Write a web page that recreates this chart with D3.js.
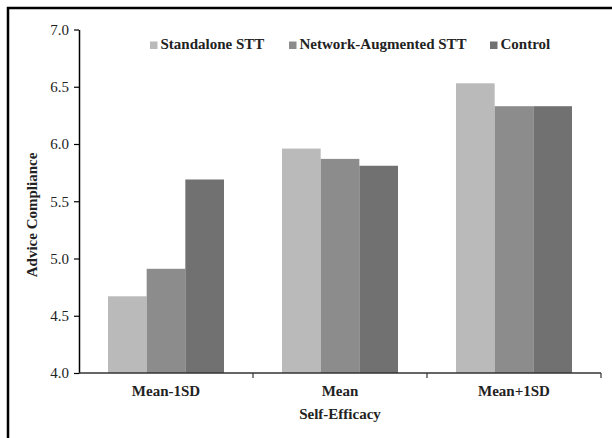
<!DOCTYPE html>
<meta charset="utf-8">
<script src="https://d3js.org/d3.v7.min.js"></script>
<style>
  body { margin: 0; background: #fff; }
  text { font-family: 'Liberation Serif', 'Times New Roman', serif; }
  .tick text { font-size: 15px; fill: #222; }
  text.cat, text.title, text.legend { font-size: 15px; font-weight: bold; fill: #222; }
</style>
<div id="my_dataviz"></div>
<script>
// data
var categories = ["Mean-1SD", "Mean", "Mean+1SD"];
var seriesNames = ["Standalone STT", "Network-Augmented STT", "Control"];
var standalone = [4.67, 5.96, 6.53];
var networkAug = [4.91, 5.87, 6.33];
var control = [5.69, 5.81, 6.33];
var yTicks = [4.0, 4.5, 5.0, 5.5, 6.0, 6.5, 7.0];
var colors = ["#bababa", "#8c8c8c", "#717171"];

var allSeries = [standalone, networkAug, control];
var data = categories.map(function(c, i) {
  return { cat: c, values: seriesNames.map(function(s, j) { return { name: s, value: allSeries[j][i] }; }) };
});

var W = 612, H = 438;
var margin = {top: 29.5, right: 11, bottom: 65, left: 79},
    width = W - margin.left - margin.right,
    height = H - margin.top - margin.bottom;

var root = d3.select("#my_dataviz").append("svg")
  .attr("width", W).attr("height", H);

// frame (top and left edges only)
root.append("path")
  .attr("d", "M8,438 V8 H612")
  .attr("fill", "none")
  .attr("stroke", "#000")
  .attr("stroke-width", 2.5);

var svg = root.append("g")
  .attr("transform", "translate(" + margin.left + "," + margin.top + ")");

var x0 = d3.scaleBand().domain(categories).range([0, width]).padding(0);
var x1 = d3.scaleBand().domain(seriesNames)
  .range([29, x0.bandwidth() - 29]).padding(0);
var y = d3.scaleLinear().domain([4, 7]).range([height, 0]);

// bars
svg.selectAll("g.grp")
  .data(data)
  .enter().append("g")
    .attr("class", "grp")
    .attr("transform", function(d) { return "translate(" + x0(d.cat) + ",0)"; })
  .selectAll("rect")
  .data(function(d) { return d.values; })
  .enter().append("rect")
    .attr("x", function(d) { return x1(d.name); })
    .attr("width", x1.bandwidth())
    .attr("y", function(d) { return y(d.value); })
    .attr("height", function(d) { return height - y(d.value); })
    .attr("fill", function(d, i) { return colors[i]; });

// y axis
var yAxis = svg.append("g")
  .call(d3.axisLeft(y).tickValues(yTicks).tickFormat(d3.format(".1f")).tickSize(5).tickPadding(5).tickSizeOuter(0));
yAxis.select(".domain").attr("stroke", "#000").attr("stroke-width", 1.5);
yAxis.selectAll(".tick line").attr("stroke", "#000").attr("stroke-width", 1.2);

// x axis: line plus ticks at category boundaries
var xAxis = svg.append("g").attr("transform", "translate(0," + height + ")");
xAxis.append("line")
  .attr("x1", 0).attr("x2", width)
  .attr("stroke", "#333").attr("stroke-width", 1.5);
xAxis.selectAll("line.bt")
  .data(categories)
  .enter().append("line")
    .attr("class", "bt")
    .attr("x1", function(d) { return x0(d) + x0.bandwidth(); })
    .attr("x2", function(d) { return x0(d) + x0.bandwidth(); })
    .attr("y1", 0).attr("y2", 5)
    .attr("stroke", "#333").attr("stroke-width", 1.2);
xAxis.selectAll("text.cat")
  .data(categories)
  .enter().append("text")
    .attr("class", "cat")
    .attr("x", function(d) { return x0(d) + x0.bandwidth() / 2; })
    .attr("y", 23)
    .attr("text-anchor", "middle")
    .text(function(d) { return d; });

// axis titles
svg.append("text")
  .attr("class", "title")
  .attr("x", width / 2)
  .attr("y", 388.5 - margin.top + 30)
  .attr("text-anchor", "middle")
  .text("Self-Efficacy");

svg.append("text")
  .attr("class", "title")
  .attr("transform", "translate(" + (37 - margin.left) + "," + (215 - margin.top) + ") rotate(-90)")
  .attr("text-anchor", "middle")
  .text("Advice Compliance");

// legend
var legendX = [150, 289, 490];
var legend = root.selectAll("g.leg")
  .data(seriesNames)
  .enter().append("g")
    .attr("class", "leg")
    .attr("transform", function(d, i) { return "translate(" + legendX[i] + ",0)"; });
legend.append("rect")
  .attr("x", 0).attr("y", 41.5)
  .attr("width", 7.5).attr("height", 7.5)
  .attr("fill", function(d, i) { return colors[i]; });
legend.append("text")
  .attr("class", "legend")
  .attr("x", 10.5).attr("y", 49)
  .text(function(d) { return d; });
</script>
